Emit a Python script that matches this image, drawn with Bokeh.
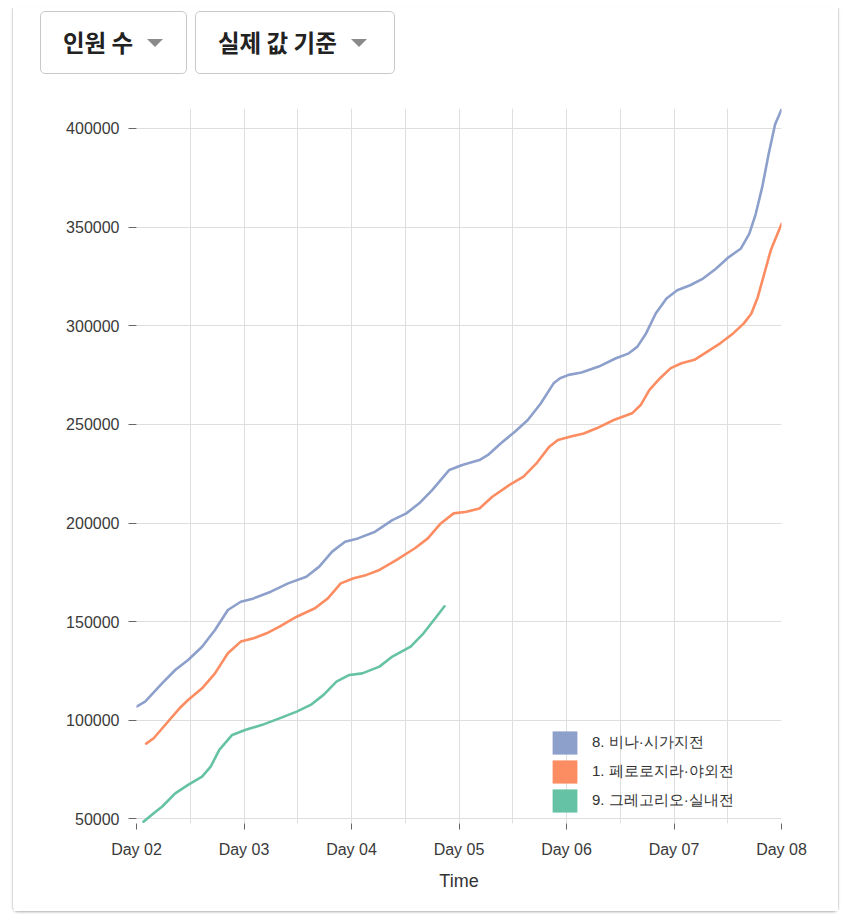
from bokeh.plotting import figure
from bokeh.models import (Range1d, FixedTicker, NumeralTickFormatter, Legend, LegendItem, Div)
from bokeh.layouts import column
from bokeh.embed import file_html
from bokeh.resources import INLINE

# ---------------- data ----------------
tick_days = [2, 3, 4, 5, 6, 7, 8]
tick_labels = ["Day 02", "Day 03", "Day 04", "Day 05", "Day 06", "Day 07", "Day 08"]
half_days = [2.5, 3.5, 4.5, 5.5, 6.5, 7.5]
y_ticks = [50000, 100000, 150000, 200000, 250000, 300000, 350000, 400000]

series_names = ["8. 비나·시가지전", "1. 페로로지라·야외전", "9. 그레고리오·실내전"]
series_colors = ["#8da0cb", "#fc8d62", "#66c2a5"]

blue_day = [2.00, 2.08, 2.24, 2.36, 2.48, 2.61, 2.73, 2.85, 2.97, 3.09, 3.25, 3.41, 3.58, 3.70,
            3.82, 3.94, 4.06, 4.22, 4.38, 4.51, 4.63, 4.75, 4.91, 5.03, 5.19, 5.27, 5.39, 5.52,
            5.64, 5.76, 5.88, 5.94, 6.02, 6.14, 6.30, 6.46, 6.58, 6.66, 6.74, 6.83, 6.93, 7.03,
            7.15, 7.27, 7.39, 7.51, 7.62, 7.70, 7.76, 7.82, 7.88, 7.94, 8.00]
blue_val = [106900, 109500, 118800, 125500, 130600, 137300, 145800, 155900, 160100, 161800,
            165200, 169400, 172800, 177900, 185500, 190500, 192200, 195600, 201500, 204900,
            210000, 216700, 226900, 229400, 231900, 234500, 240400, 246300, 252200, 260600,
            270800, 273400, 275100, 276300, 279300, 283500, 286000, 289400, 296100, 306200,
            313800, 318000, 320500, 323900, 328900, 334800, 339000, 346600, 356600, 370100,
            386900, 402000, 409600]

orange_day = [2.09, 2.16, 2.28, 2.40, 2.48, 2.61, 2.73, 2.85, 2.97, 3.09, 3.21, 3.33, 3.49, 3.66,
              3.78, 3.90, 4.02, 4.14, 4.26, 4.42, 4.59, 4.71, 4.83, 4.95, 5.07, 5.19, 5.31, 5.47,
              5.60, 5.72, 5.84, 5.92, 6.04, 6.16, 6.28, 6.44, 6.61, 6.69, 6.77, 6.87, 6.97, 7.07,
              7.19, 7.31, 7.43, 7.55, 7.65, 7.72, 7.78, 7.84, 7.90, 8.00]
orange_val = [88200, 90900, 98500, 106100, 110300, 116200, 123800, 134000, 139900, 141600,
              144100, 147500, 152500, 156800, 161800, 169400, 172000, 173700, 176200, 181300,
              187200, 192200, 199800, 204900, 205700, 207400, 213300, 219300, 223500, 230200,
              238700, 242100, 243800, 245400, 248000, 252200, 255600, 259800, 267400, 273400,
              278500, 281000, 282700, 286900, 291100, 296100, 301200, 306200, 314600, 326400,
              338200, 351600]

green_day = [2.065, 2.16, 2.24, 2.36, 2.48, 2.61, 2.69, 2.77, 2.89, 3.01, 3.17, 3.33, 3.49, 3.62,
             3.74, 3.86, 3.98, 4.10, 4.26, 4.38, 4.55, 4.67, 4.79, 4.865]
green_val = [48600, 52900, 56300, 63000, 67300, 71500, 76500, 85000, 92600, 95100, 97700,
             101000, 104400, 107800, 112900, 119600, 123000, 123800, 127200, 132300, 137300,
             144100, 152500, 157800]

button_labels = ["인원 수", "실제 값 기준"]

# ---------------- figure ----------------
p = figure(width=825, height=823, output_backend="svg", toolbar_location=None,
           x_range=Range1d(2, 8), y_range=Range1d(47700, 410100),
           min_border_left=123, min_border_right=57, min_border_top=20, min_border_bottom=88,
           outline_line_color=None, background_fill_color="white", border_fill_color="white")

grid_color = "#dedede"
p.xaxis.ticker = FixedTicker(ticks=tick_days, minor_ticks=half_days)
p.xaxis.major_label_overrides = {d: lab for d, lab in zip(tick_days, tick_labels)}
p.yaxis.ticker = FixedTicker(ticks=y_ticks)
p.yaxis.formatter = NumeralTickFormatter(format="0")

p.xgrid.grid_line_color = grid_color
p.xgrid.minor_grid_line_color = grid_color
p.ygrid.grid_line_color = grid_color

for ax in (p.xaxis, p.yaxis):
    ax.axis_line_color = None
    ax.major_tick_line_color = "#666666"
    ax.major_tick_in = 0
    ax.minor_tick_line_color = None
    ax.major_label_text_font = "Liberation Sans"
    ax.major_label_text_font_size = "16px"
    ax.major_label_text_color = "#3a3a3a"

p.yaxis.major_tick_out = 8
p.yaxis.major_label_standoff = 9
p.xaxis.major_tick_out = 6
p.xaxis.major_label_standoff = 11
p.xaxis.axis_label = "Time"
p.xaxis.axis_label_text_font = "Liberation Sans"
p.xaxis.axis_label_text_font_size = "18px"
p.xaxis.axis_label_text_font_style = "normal"
p.xaxis.axis_label_text_color = "#333333"
p.xaxis.axis_label_standoff = 10

series = [(blue_day, blue_val), (orange_day, orange_val), (green_day, green_val)]
items = []
for (xs, ys), name, col in zip(series, series_names, series_colors):
    p.line(xs, ys, line_color=col, line_width=2.6, line_join="round", line_cap="round")
    # zero-area swatch at the series' first point: invisible on the plot, used for the legend square
    sw = p.quad(left=[xs[0]], right=[xs[0]], top=[ys[0]], bottom=[ys[0]],
                fill_color=col, line_color=col, line_alpha=0)
    items.append(LegendItem(label=name, renderers=[sw]))

legend = Legend(items=items, location=(413, 8), border_line_color=None,
                background_fill_alpha=0, padding=0, margin=0, spacing=0,
                glyph_width=31, glyph_height=29, label_height=29, label_standoff=12,
                label_text_font="Liberation Sans", label_text_font_size="15px",
                label_text_color="#333333")
p.add_layout(legend, "center")

# ---------------- dropdown buttons ----------------
def button(label, width):
    return (f'<div style="box-sizing:border-box;width:{width}px;height:63px;border:1px solid #c9c9c9;'
            f'border-radius:5px;display:flex;align-items:center;padding-left:22px;'
            f'font-family:\'Noto Sans CJK KR\';font-size:23.5px;font-weight:700;color:#222;background:white;">'
            f'<span>{label}</span>'
            f'<span style="display:inline-block;margin-left:14px;width:0;height:0;'
            f'border-left:8px solid transparent;border-right:8px solid transparent;'
            f'border-top:8px solid #8a8a8a;"></span></div>')

html = ('<div style="display:flex;gap:8px;padding:3px 0 0 27px;">'
        + button(button_labels[0], 147) + button(button_labels[1], 200) + '</div>')
div = Div(text=html, width=825, height=80, margin=0)

layout = column(div, p, spacing=0, margin=0,
                styles={"margin-left": "12px", "margin-top": "8px",
                        "border-left": "1px solid #dcdcdc", "border-right": "1px solid #dcdcdc",
                        "border-bottom": "1px solid #c8c8c8", "border-radius": "0 0 6px 6px",
                        "box-shadow": "0 1px 2px rgba(0,0,0,0.15)", "background": "white"})

open("out.html", "w").write(file_html(layout, INLINE))
